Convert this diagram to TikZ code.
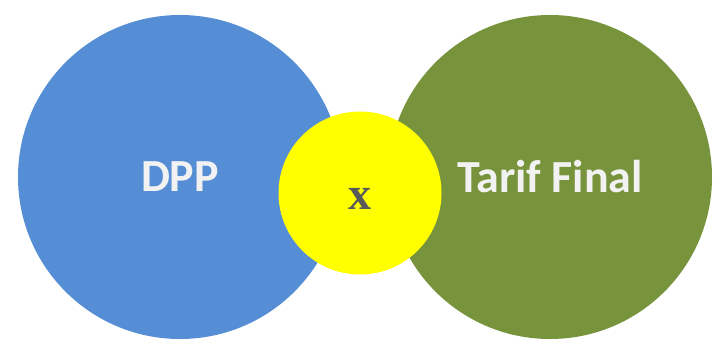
\documentclass[tikz,border=0pt]{standalone}
\usepackage{fontspec}
\setmainfont{Liberation Serif}
\newfontfamily\carlito{Carlito}
\usetikzlibrary{positioning}
\definecolor{dppblue}{HTML}{558ED5}
\definecolor{tarifgreen}{HTML}{77933C}
\definecolor{multyellow}{HTML}{FFFF00}
\definecolor{labelwhite}{HTML}{F2F2F2}
\definecolor{signgray}{HTML}{595959}
\tikzset{
    bigcircle/.style={circle, minimum size=324pt, inner sep=0pt, text=labelwhite, font=\carlito\bfseries\fontsize{46}{52}\selectfont}, % outer circles
    smallcircle/.style={circle, minimum size=163pt, inner sep=0pt, fill=multyellow}, % middle circle
    sign/.style={text=signgray, font=\bfseries\fontsize{46}{50}\selectfont}, % the product sign
}

\begin{document}
\begin{tikzpicture}[x=1pt, y=-1pt, node distance=370pt, on grid]
    \useasboundingbox (0,0) rectangle (716,340);
    % Circles
    \node[bigcircle, fill=dppblue] (dpp) at (180,177) {DPP};
    \node[bigcircle, fill=tarifgreen] (tarif) [right=of dpp] {Tarif Final};
    \node[smallcircle] (mult) at (360,193) {};
    % Sign
    \node[sign] (times) at ([yshift=-6pt]mult.center) {x};
\end{tikzpicture}
\end{document}
